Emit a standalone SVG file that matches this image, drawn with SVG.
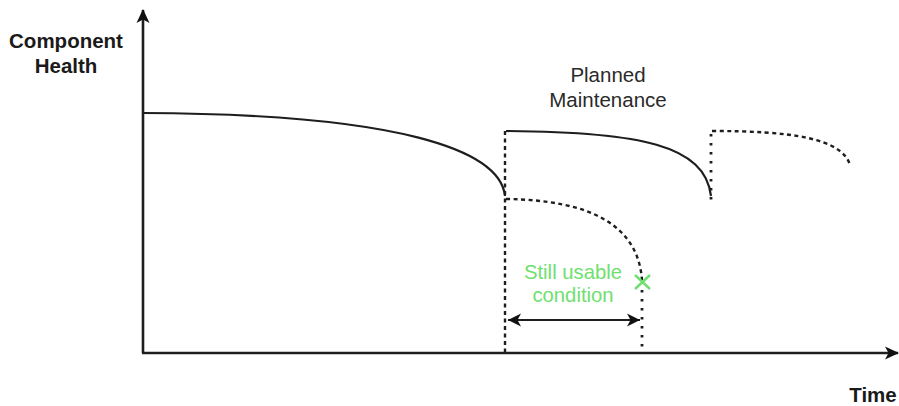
<svg xmlns="http://www.w3.org/2000/svg" width="899" height="406" viewBox="0 0 899 406">
  <style>
    .axis { fill: none; stroke: #1e1e1e; stroke-width: 2.6; }
    .solid { fill: none; stroke: #1e1e1e; stroke-width: 2.2; }
    .dash { fill: none; stroke: #1e1e1e; stroke-width: 2.4; stroke-dasharray: 4 3.5; }
    .dot { fill: none; stroke: #1e1e1e; stroke-width: 2.8; stroke-dasharray: 2.5 6.5; }
    .lbl { font-family: "Liberation Sans", Arial, sans-serif; text-anchor: middle; }
    .bold { font-weight: bold; fill: #1a1a1a; font-size: 20.5px; }
    .note { fill: #2a2a2a; font-size: 20.5px; }
    .green { fill: #6fe06f; font-size: 20.3px; }
  </style>
  <defs>
    <marker id="axisHead" viewBox="0 0 14 14" refX="13" refY="7" markerWidth="14" markerHeight="14" markerUnits="userSpaceOnUse" orient="auto">
      <path d="M0,0.5 L14,7 L0,13.5 L3.5,7 Z" fill="#111"/>
    </marker>
    <marker id="spanHead" viewBox="0 0 14 14" refX="13" refY="7" markerWidth="14" markerHeight="14" markerUnits="userSpaceOnUse" orient="auto-start-reverse">
      <path d="M0,0.5 L13,7 L0,13.5 L3.5,7 Z" fill="#111"/>
    </marker>
  </defs>

  <!-- axes -->
  <g id="axes">
    <line class="axis" x1="143" y1="353" x2="143" y2="10" marker-end="url(#axisHead)"/>
    <line class="axis" x1="142" y1="353" x2="898" y2="353" marker-end="url(#axisHead)"/>
  </g>

  <!-- axis labels -->
  <g id="label-health">
    <text class="lbl bold" x="66" y="48">Component</text>
    <text class="lbl bold" x="66" y="73">Health</text>
  </g>
  <g id="label-time">
    <text class="lbl bold" x="873" y="402">Time</text>
  </g>
  <g id="label-maintenance">
    <text class="lbl note" x="608" y="82">Planned</text>
    <text class="lbl note" x="608" y="107">Maintenance</text>
  </g>

  <!-- health curves -->
  <g id="connectors">
    <path class="solid" d="M143,113 C400,114 500,150 505,196"/>
    <path class="solid" d="M506,131 C640,132 705,145 711,196"/>
    <path class="dash" d="M712,131 C790,131 842,138 850,165"/>
    <path class="dash" d="M506,199 C590,200 638,225 642,280"/>
    <path class="dash" d="M505,131 L505,353"/>
    <path class="dot" d="M711,134 L711,200"/>
    <path class="dot" d="M642,290 L642,353"/>
    <line class="solid" x1="508" y1="320" x2="640" y2="320" marker-start="url(#spanHead)" marker-end="url(#spanHead)"/>
  </g>

  <!-- usable window -->
  <g id="usable">
    <path d="M635,275 L650,289 M650,275 L635,289" stroke="#6fe06f" stroke-width="2.4" fill="none"/>
    <text class="lbl green" x="573" y="279">Still usable</text>
    <text class="lbl green" x="573" y="302">condition</text>
  </g>
</svg>
